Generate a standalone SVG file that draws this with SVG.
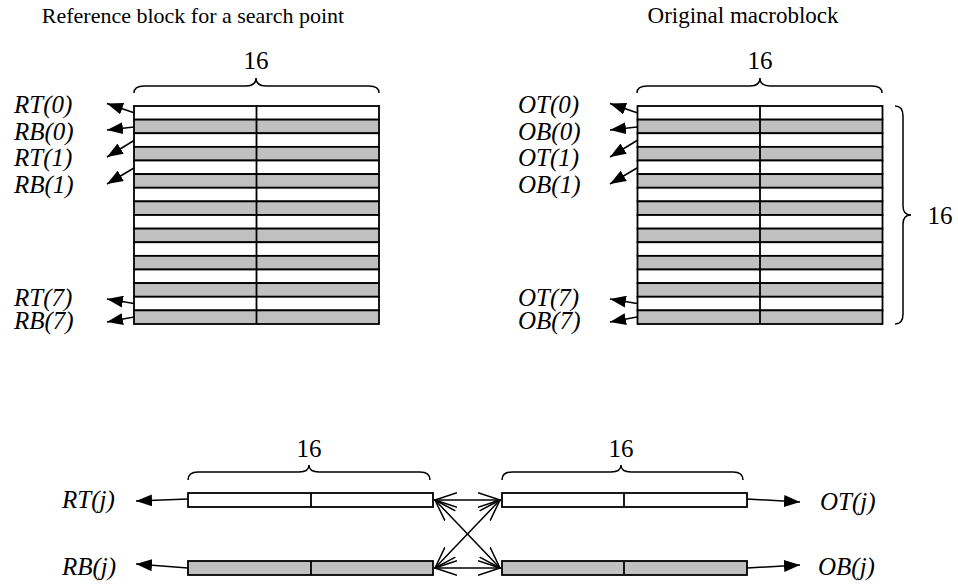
<svg xmlns="http://www.w3.org/2000/svg" width="958" height="584" viewBox="0 0 958 584">
<style>
text{fill:#000;font-family:'Liberation Serif','Times New Roman',serif}
.t{font-size:22px;text-anchor:middle}
.n{font-size:25px;text-anchor:middle}
.l{font-size:25px;font-style:italic}
.w{fill:#fff;stroke:#000;stroke-width:1.8}
.g{fill:#c0c0c0;stroke:#000;stroke-width:1.8}
.d{stroke:#000;stroke-width:1.8}
.br{fill:none;stroke:#000;stroke-width:1.5}
.a{fill:none;stroke:#000;stroke-width:1.5;marker-end:url(#fa)}
.x{fill:none;stroke:#000;stroke-width:1.5;marker-start:url(#oa);marker-end:url(#oa)}
</style>
<defs>
<marker id="fa" viewBox="0 0 16 12" refX="16" refY="6" markerWidth="16" markerHeight="12" markerUnits="userSpaceOnUse" orient="auto"><path d="M0,0 L16,6 L0,12 Z" fill="#000"/></marker>
<marker id="oa" viewBox="0 0 23 16" refX="22" refY="8" markerWidth="23" markerHeight="16" markerUnits="userSpaceOnUse" orient="auto-start-reverse"><path d="M0,0.8 L22,8 L0,15.2" fill="none" stroke="#000" stroke-width="1.5"/></marker>
<g id="rows">
<rect class="w" x="0" y="106" width="245" height="13.625"/>
<rect class="g" x="0" y="119.625" width="245" height="13.625"/>
<rect class="w" x="0" y="133.25" width="245" height="13.625"/>
<rect class="g" x="0" y="146.875" width="245" height="13.625"/>
<rect class="w" x="0" y="160.5" width="245" height="13.625"/>
<rect class="g" x="0" y="174.125" width="245" height="13.625"/>
<rect class="w" x="0" y="187.75" width="245" height="13.625"/>
<rect class="g" x="0" y="201.375" width="245" height="13.625"/>
<rect class="w" x="0" y="215" width="245" height="13.625"/>
<rect class="g" x="0" y="228.625" width="245" height="13.625"/>
<rect class="w" x="0" y="242.25" width="245" height="13.625"/>
<rect class="g" x="0" y="255.875" width="245" height="13.625"/>
<rect class="w" x="0" y="269.5" width="245" height="13.625"/>
<rect class="g" x="0" y="283.125" width="245" height="13.625"/>
<rect class="w" x="0" y="296.75" width="245" height="13.625"/>
<rect class="g" x="0" y="310.375" width="245" height="13.625"/>
<line class="d" x1="122.5" y1="106" x2="122.5" y2="324"/>
</g>
</defs>

<g id="title-ref"><text class="t" x="193" y="23">Reference block for a search point</text></g>
<g id="title-orig"><text class="t" x="743" y="23" style="font-size:23px">Original macroblock</text></g>

<g id="ref-block">
<use href="#rows" x="134"/>
<path class="br" d="M134,93 Q134,86 144,86 L246,86 Q256,86 256,78 Q256,86 266,86 L369,86 Q379,86 379,93"/>
<text class="n" x="256" y="69">16</text>
</g>

<g id="orig-block">
<use href="#rows" x="637.5"/>
<path class="br" d="M637,93 Q637,86 647,86 L750,86 Q760,86 760,78 Q760,86 770,86 L872,86 Q882,86 882,93"/>
<text class="n" x="760" y="69">16</text>
<path class="br" d="M895,106 Q903,106 903,116 L903,206 Q903,215 911,215 Q903,215 903,224 L903,314 Q903,324 895,324"/>
<text class="n" x="940" y="224">16</text>
</g>

<g id="ref-labels">
<text class="l" x="14" y="113">RT(0)</text>
<text class="l" x="14" y="140">RB(0)</text>
<text class="l" x="14" y="166">RT(1)</text>
<text class="l" x="14" y="193">RB(1)</text>
<text class="l" x="14" y="306">RT(7)</text>
<text class="l" x="14" y="329">RB(7)</text>
</g>
<g id="orig-labels">
<text class="l" x="518" y="113">OT(0)</text>
<text class="l" x="518" y="140">OB(0)</text>
<text class="l" x="518" y="166">OT(1)</text>
<text class="l" x="518" y="193">OB(1)</text>
<text class="l" x="518" y="306">OT(7)</text>
<text class="l" x="518" y="329">OB(7)</text>
</g>

<g id="bar-rt">
<rect class="w" x="188" y="493" width="245" height="14"/>
<line class="d" x1="311" y1="493" x2="311" y2="507"/>
<path class="br" d="M188,480 Q188,472 198,472 L299,472 Q309,472 309,465 Q309,472 319,472 L420,472 Q430,472 430,480"/>
<text class="n" x="309" y="457">16</text>
</g>
<g id="bar-rb">
<rect class="g" x="188" y="561" width="245" height="14"/>
<line class="d" x1="311" y1="561" x2="311" y2="575"/>
</g>
<g id="bar-ot">
<rect class="w" x="502" y="493" width="245" height="14"/>
<line class="d" x1="624" y1="493" x2="624" y2="507"/>
<path class="br" d="M502,480 Q502,472 512,472 L611,472 Q621,472 621,465 Q621,472 631,472 L733,472 Q743,472 743,480"/>
<text class="n" x="621" y="457">16</text>
</g>
<g id="bar-ob">
<rect class="g" x="502" y="561" width="245" height="14"/>
<line class="d" x1="624" y1="561" x2="624" y2="575"/>
</g>
<g id="bottom-labels">
<text class="l" x="62" y="508">RT(j)</text>
<text class="l" x="62" y="575">RB(j)</text>
<text class="l" x="820" y="510">OT(j)</text>
<text class="l" x="818" y="575">OB(j)</text>
</g>

<g id="connectors">
<line class="a" x1="134" y1="112.7" x2="107" y2="103.5"/>
<line class="a" x1="134" y1="127" x2="107" y2="130"/>
<line class="a" x1="134" y1="140.5" x2="107" y2="157"/>
<line class="a" x1="134" y1="168" x2="107" y2="184"/>
<line class="a" x1="134" y1="303.5" x2="107" y2="299"/>
<line class="a" x1="134" y1="317" x2="107" y2="322"/>
<line class="a" x1="637" y1="112.7" x2="610" y2="103.5"/>
<line class="a" x1="637" y1="127" x2="610" y2="130"/>
<line class="a" x1="637" y1="140.5" x2="610" y2="157"/>
<line class="a" x1="637" y1="168" x2="610" y2="184"/>
<line class="a" x1="637" y1="303.5" x2="610" y2="299"/>
<line class="a" x1="637" y1="317" x2="610" y2="322"/>
<line class="a" x1="188" y1="499" x2="136" y2="501"/>
<line class="a" x1="188" y1="568" x2="136" y2="564"/>
<line class="a" x1="747" y1="499" x2="800" y2="502"/>
<line class="a" x1="747" y1="568" x2="800" y2="565"/>
<line class="x" x1="435" y1="500" x2="500" y2="500"/>
<line class="x" x1="435" y1="568" x2="500" y2="568"/>
<line class="x" x1="435" y1="500" x2="500" y2="568"/>
<line class="x" x1="435" y1="568" x2="500" y2="500"/>
</g>
</svg>
